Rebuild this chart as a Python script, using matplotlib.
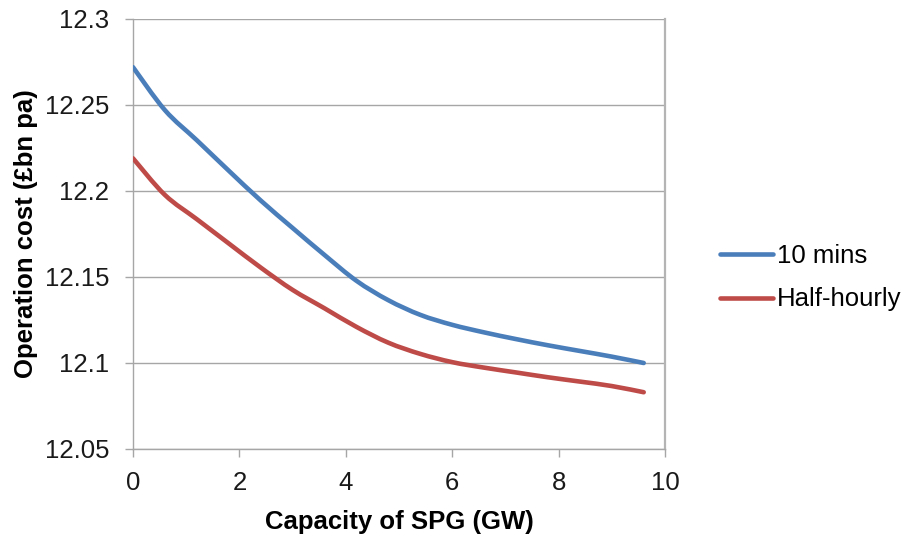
import matplotlib
matplotlib.use("Agg")
import matplotlib.pyplot as plt
from matplotlib.path import Path
from matplotlib.patches import PathPatch
from matplotlib.lines import Line2D

# capacity of SPG (GW) and operation cost (GBP bn pa)
capacity = [0.0, 0.6, 1.2, 1.8, 2.4, 3.0, 3.6, 4.2, 4.8, 5.4, 6.0, 6.6, 7.2,
	7.8, 8.4, 9.0, 9.6]
cost_10min = [12.272, 12.247, 12.2295, 12.2118, 12.1945, 12.1785, 12.1628,
	12.1478, 12.1365, 12.128, 12.1222, 12.1178, 12.1139, 12.1103, 12.107,
	12.1037, 12.100]
cost_halfhour = [12.219, 12.1977, 12.1836, 12.1695, 12.1555, 12.1425,
	12.1318, 12.121, 12.1118, 12.1053, 12.1005, 12.0973, 12.0945, 12.0917,
	12.0892, 12.0866, 12.083]
series_names = ["10 mins", "Half-hourly"]
xticks = [0, 2, 4, 6, 8, 10]
yticks = [12.05, 12.1, 12.15, 12.2, 12.25, 12.3]
ytick_labels = ["12.05", "12.1", "12.15", "12.2", "12.25", "12.3"]

BLUE = "#4a7ebb"
RED = "#be4b48"
GRID = "#a6a6a6"
FS = 18.5


def smooth_path(x, y):
	r"""
	Smoothed line through the points, like a spreadsheet's "smoothed line".
	"""
	n = len(x)
	verts = [(x[0], y[0])]
	codes = [Path.MOVETO]
	for i in range(n - 1):
		x0, y0 = (x[i - 1], y[i - 1]) if i > 0 else (x[i], y[i])
		x3, y3 = (x[i + 2], y[i + 2]) if i + 2 < n else (x[i + 1], y[i + 1])
		c1 = (x[i] + (x[i + 1] - x0) / 6., y[i] + (y[i + 1] - y0) / 6.)
		c2 = (x[i + 1] - (x3 - x[i]) / 6., y[i + 1] - (y3 - y[i]) / 6.)
		verts += [c1, c2, (x[i + 1], y[i + 1])]
		codes += [Path.CURVE4] * 3
	return Path(verts, codes)


plt.rcParams["font.family"] = ["Liberation Sans", "DejaVu Sans"]

fig = plt.figure(figsize = (9.12, 5.41), dpi = 100)
ax = fig.add_axes([133 / 912, 1 - 449 / 541, (665 - 133) / 912, (449 - 19) / 541])

for yv, color in zip([cost_10min, cost_halfhour], [BLUE, RED]):
	ax.add_patch(PathPatch(smooth_path(capacity, yv), facecolor = "none",
		edgecolor = color, lw = 3.3, capstyle = "round", joinstyle = "round",
		zorder = 3))

ax.set_xlim(0, 10)
ax.set_ylim(12.05, 12.3)
ax.set_xticks(xticks)
ax.set_yticks(yticks)
ax.set_yticklabels(ytick_labels)
ax.yaxis.grid(True, color = GRID, lw = 1)
ax.set_axisbelow(True)

for side in ["left", "bottom"]:
	ax.spines[side].set_color(GRID)
	ax.spines[side].set_linewidth(1)
ax.spines["top"].set_visible(False)
ax.spines["right"].set_color("#b4b4b4")
ax.spines["right"].set_linewidth(1.6)

ax.tick_params(axis = "both", direction = "out", length = 6, width = 1,
	color = GRID, labelsize = FS, labelcolor = "#1a1a1a")
ax.tick_params(axis = "x", pad = 10)
ax.tick_params(axis = "y", pad = 11)

ax.set_xlabel("Capacity of SPG (GW)", fontsize = FS, fontweight = "bold",
	labelpad = 11)
ax.set_ylabel("Operation cost (£bn pa)", fontsize = FS, fontweight = "bold",
	labelpad = 5)

handles = [Line2D([], [], color = BLUE, lw = 3.3, solid_capstyle = "round"),
	Line2D([], [], color = RED, lw = 3.3, solid_capstyle = "round")]
ax.legend(handles, series_names, loc = "center left",
	bbox_to_anchor = (1.104, 0.398), frameon = False, borderpad = 0,
	borderaxespad = 0, fontsize = FS, handlelength = 2.05,
	handletextpad = 0.15, labelspacing = 0.75)

fig.savefig("out.png", dpi = 100)
